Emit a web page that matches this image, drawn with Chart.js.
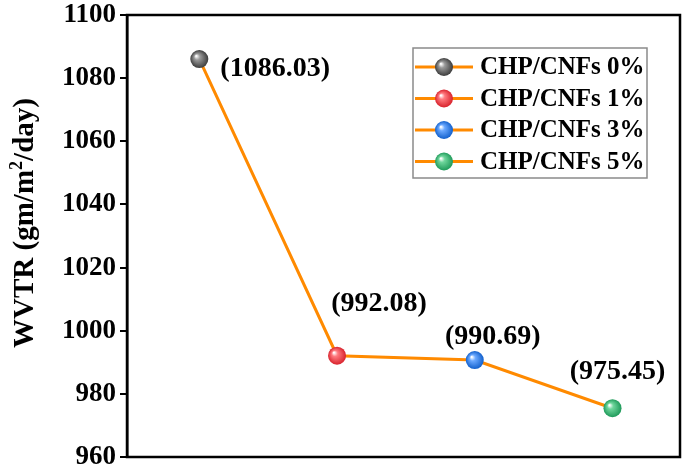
<!DOCTYPE html>
<html><head><meta charset="utf-8">
<script src="https://cdn.jsdelivr.net/npm/chart.js@4"></script>
<style>html,body{margin:0;padding:0;background:#fff}#wrap{width:685px;height:470px}</style>
</head><body><div id="wrap"><canvas id="c" width="685" height="470"></canvas></div>
<script>
const categories = ["CHP/CNFs 0%", "CHP/CNFs 1%", "CHP/CNFs 3%", "CHP/CNFs 5%"];
const wvtr = [1086.03, 992.08, 990.69, 975.45];
const valueLabels = ["(1086.03)", "(992.08)", "(990.69)", "(975.45)"];
const yTicks = [960, 980, 1000, 1020, 1040, 1060, 1080, 1100];
const yTitleParts = ["WVTR (gm/m", "2", "/day)"];
const markerColors = [["#9a9a9a", "#3c3c3c"], ["#ff7a7f", "#d8222c"], ["#6aa8ff", "#1260cc"], ["#6fd69c", "#1f9a5a"]];
const lineColor = "#ff8a00";
const FONT = "'Liberation Serif', 'Times New Roman', serif";

function sphere(ctx, x, y, r, cols) {
  const g = ctx.createRadialGradient(x - r * 0.35, y - r * 0.35, r * 0.05, x, y, r);
  g.addColorStop(0, "#ffffff");
  g.addColorStop(0.3, cols[0]);
  g.addColorStop(1, cols[1]);
  ctx.beginPath(); ctx.arc(x, y, r, 0, Math.PI * 2); ctx.fillStyle = g; ctx.fill();
}

const decor = {
  id: "decor",
  afterDatasetsDraw(chart) {
    const ctx = chart.ctx, a = chart.chartArea;
    ctx.save();
    // frame
    ctx.strokeStyle = "#000"; ctx.lineWidth = 2.5;
    ctx.strokeRect(a.left, a.top, a.right - a.left, a.bottom - a.top);
    // y title with superscript
    ctx.save();
    ctx.translate(23, 223); ctx.rotate(-Math.PI / 2);
    ctx.fillStyle = "#000"; ctx.textBaseline = "alphabetic"; ctx.textAlign = "left";
    const big = "bold 29px " + FONT, small = "bold 18px " + FONT;
    ctx.font = big; const w0 = ctx.measureText(yTitleParts[0]).width, w2 = ctx.measureText(yTitleParts[2]).width;
    ctx.font = small; const w1 = ctx.measureText(yTitleParts[1]).width;
    let x0 = -(w0 + w1 + w2) / 2, base = 10;
    ctx.font = big; ctx.fillText(yTitleParts[0], x0, base);
    ctx.font = small; ctx.fillText(yTitleParts[1], x0 + w0, base - 11);
    ctx.font = big; ctx.fillText(yTitleParts[2], x0 + w0 + w1, base);
    ctx.restore();
    // markers
    const meta = chart.getDatasetMeta(0);
    meta.data.forEach((p, i) => sphere(ctx, p.x, p.y, 9, markerColors[i]));
    // value labels
    const offs = [[21, 10, "left"], [42, -52, "center"], [18, -23, "center"], [5, -36, "center"]];
    ctx.fillStyle = "#000"; ctx.font = "bold 28px " + FONT; ctx.textBaseline = "middle";
    meta.data.forEach((p, i) => {
      ctx.textAlign = offs[i][2];
      ctx.fillText(valueLabels[i], p.x + offs[i][0], p.y + offs[i][1]);
    });
    // legend
    ctx.strokeStyle = "#8a8a8a"; ctx.lineWidth = 1.5;
    ctx.strokeRect(413, 48, 234, 130);
    ctx.font = "bold 25px " + FONT; ctx.textAlign = "left";
    categories.forEach((c, i) => {
      const y = 67 + i * 31.5;
      ctx.strokeStyle = lineColor; ctx.lineWidth = 3;
      ctx.beginPath(); ctx.moveTo(415, y); ctx.lineTo(473, y); ctx.stroke();
      sphere(ctx, 444, y, 9, markerColors[i]);
      ctx.fillStyle = "#000";
      ctx.fillText(c, 480, y + 1);
    });
    ctx.restore();
  }
};

new Chart(document.getElementById("c"), {
  type: "line",
  data: {
    datasets: [{
      data: wvtr.map((v, i) => ({ x: i, y: v })),
      borderColor: lineColor, borderWidth: 3, pointRadius: 0, tension: 0, fill: false
    }]
  },
  options: {
    responsive: false, animation: false, devicePixelRatio: 1,
    layout: { padding: { left: 0, top: 15, right: 5, bottom: 13 } },
    plugins: { legend: { display: false }, tooltip: { enabled: false } },
    scales: {
      x: { type: "linear", min: -0.525, max: 3.49, display: false },
      y: {
        min: 960, max: 1100,
        afterBuildTicks: s => { s.ticks = yTicks.map(v => ({ value: v })); },
        afterFit: s => { s.width = 127; },
        ticks: { color: "#000", font: { family: FONT, size: 27, weight: "bold", lineHeight: 0.5 }, padding: 4, callback: v => String(v) },
        grid: { drawOnChartArea: false, color: "#000", lineWidth: 2, tickLength: 7 },
        border: { display: true, color: "#000", width: 2.5 },
        title: { display: false }
      }
    }
  },
  plugins: [decor]
});
</script>
</body></html>
